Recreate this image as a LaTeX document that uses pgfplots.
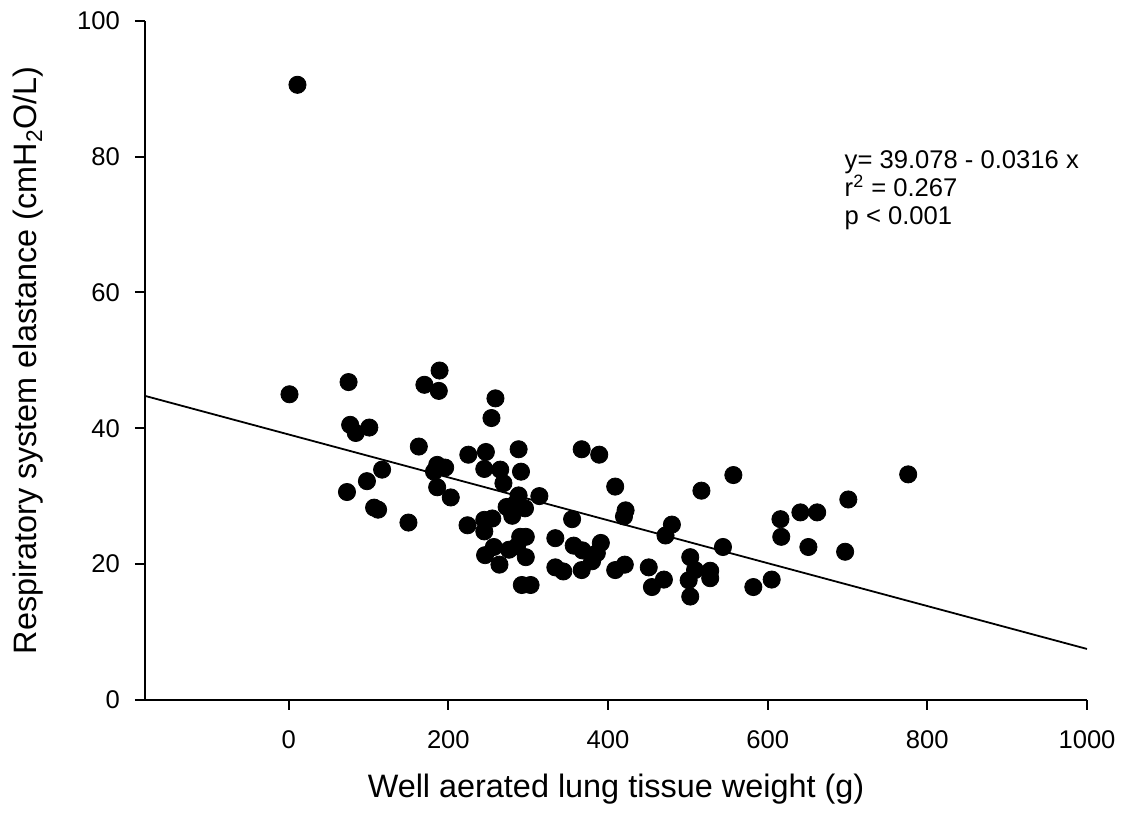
\documentclass[border=0pt]{standalone}
\usepackage{pgfplots}
\pgfplotsset{compat=1.18}
\usepackage{fontspec}
\setmainfont{Liberation Sans}
\begin{document}
\begin{tikzpicture}
\begin{axis}[
  at={(0,0)}, anchor=south west,
  scale only axis, width=471pt, height=339.35pt,
  xmin=-180, xmax=1000, ymin=0, ymax=100,
  axis x line*=bottom, axis y line*=left,
  axis line style={line width=1pt, -},
  xtick={0,200,...,1000}, ytick={0,20,...,100},
  tick align=outside, major tick length=5pt,
  tick style={line width=1pt, black},
  /pgf/number format/assume math mode=true,
  /pgf/number format/set thousands separator={},
  tick label style={font=\fontsize{12.8}{14}\selectfont},
  xticklabel style={yshift=-7pt},
  yticklabel style={xshift=-4pt},
  label style={font=\fontsize{16.2}{19}\selectfont},
  xlabel={Well aerated lung tissue weight (g)},
  ylabel={Respiratory system elastance (cmH\textsubscript{2}O/L)},
  xlabel style={at={([yshift=-49pt]axis description cs:0.5,0)}, anchor=base},
  ylabel style={at={([xshift=-54pt]axis description cs:0,0.5)}, anchor=base},
  clip=false,
]
\addplot[only marks, mark=*, mark size=4.3pt, black, mark options={fill=black}] coordinates {
(1,45.0) (11,90.6) (73,30.6) (75,46.8) (77,40.5) (84,39.3) (98,32.2) (101,40.1)
(107,28.3) (112,28.0) (117,33.9) (150,26.1) (163,37.3) (170,46.4) (182,33.6)
(186,31.3) (186,34.6) (188,45.5) (189,48.5) (196,34.2) (203,29.8) (224,25.7)
(225,36.1) (245,24.8) (245,26.5) (245,34.0) (247,36.5) (246,21.3) (254,41.5)
(255,26.7) (257,22.5) (259,44.4) (264,19.9) (265,33.9) (269,31.9) (273,28.4)
(276,22.1) (280,27.1) (284,28.9) (286,22.6) (288,30.1) (288,36.9) (290,24.0)
(291,33.6) (292,16.9) (296,28.2) (297,24.0) (297,21.0) (303,16.9) (314,30.0)
(334,23.8) (334,19.5) (344,18.9) (355,26.6) (357,22.7) (367,36.9) (368,22.0)
(367,19.1) (380,20.4) (386,21.6) (389,36.1) (391,23.1) (409,31.4) (409,19.1)
(421,19.9) (420,27.0) (422,27.9) (451,19.5) (455,16.6) (470,17.7) (472,24.2)
(480,25.8) (501,17.6) (503,21.0) (503,15.2) (509,19.1) (517,30.8) (528,19.0)
(528,17.9) (544,22.5) (557,33.1) (582,16.6) (605,17.7) (616,26.6) (617,24.0)
(641,27.6) (651,22.5) (662,27.6) (697,21.8) (701,29.5) (776,33.2)
};
\addplot[black, line width=0.9pt] coordinates {(-180,44.766) (1000,7.478)};
\node[anchor=base west, font=\fontsize{12.8}{14}\selectfont, inner sep=0pt] at (axis cs:696,78.3) {y= 39.078 - 0.0316 x};
\node[anchor=base west, font=\fontsize{12.8}{14}\selectfont, inner sep=0pt] at (axis cs:696,74.2) {r\textsuperscript{2} = 0.267};
\node[anchor=base west, font=\fontsize{12.8}{14}\selectfont, inner sep=0pt] at (axis cs:696,70.0) {p < 0.001};
\end{axis}
\pgfresetboundingbox
\useasboundingbox (-72.5pt,-58.15pt) rectangle (489.5pt,349.85pt);
\end{tikzpicture}
\end{document}
